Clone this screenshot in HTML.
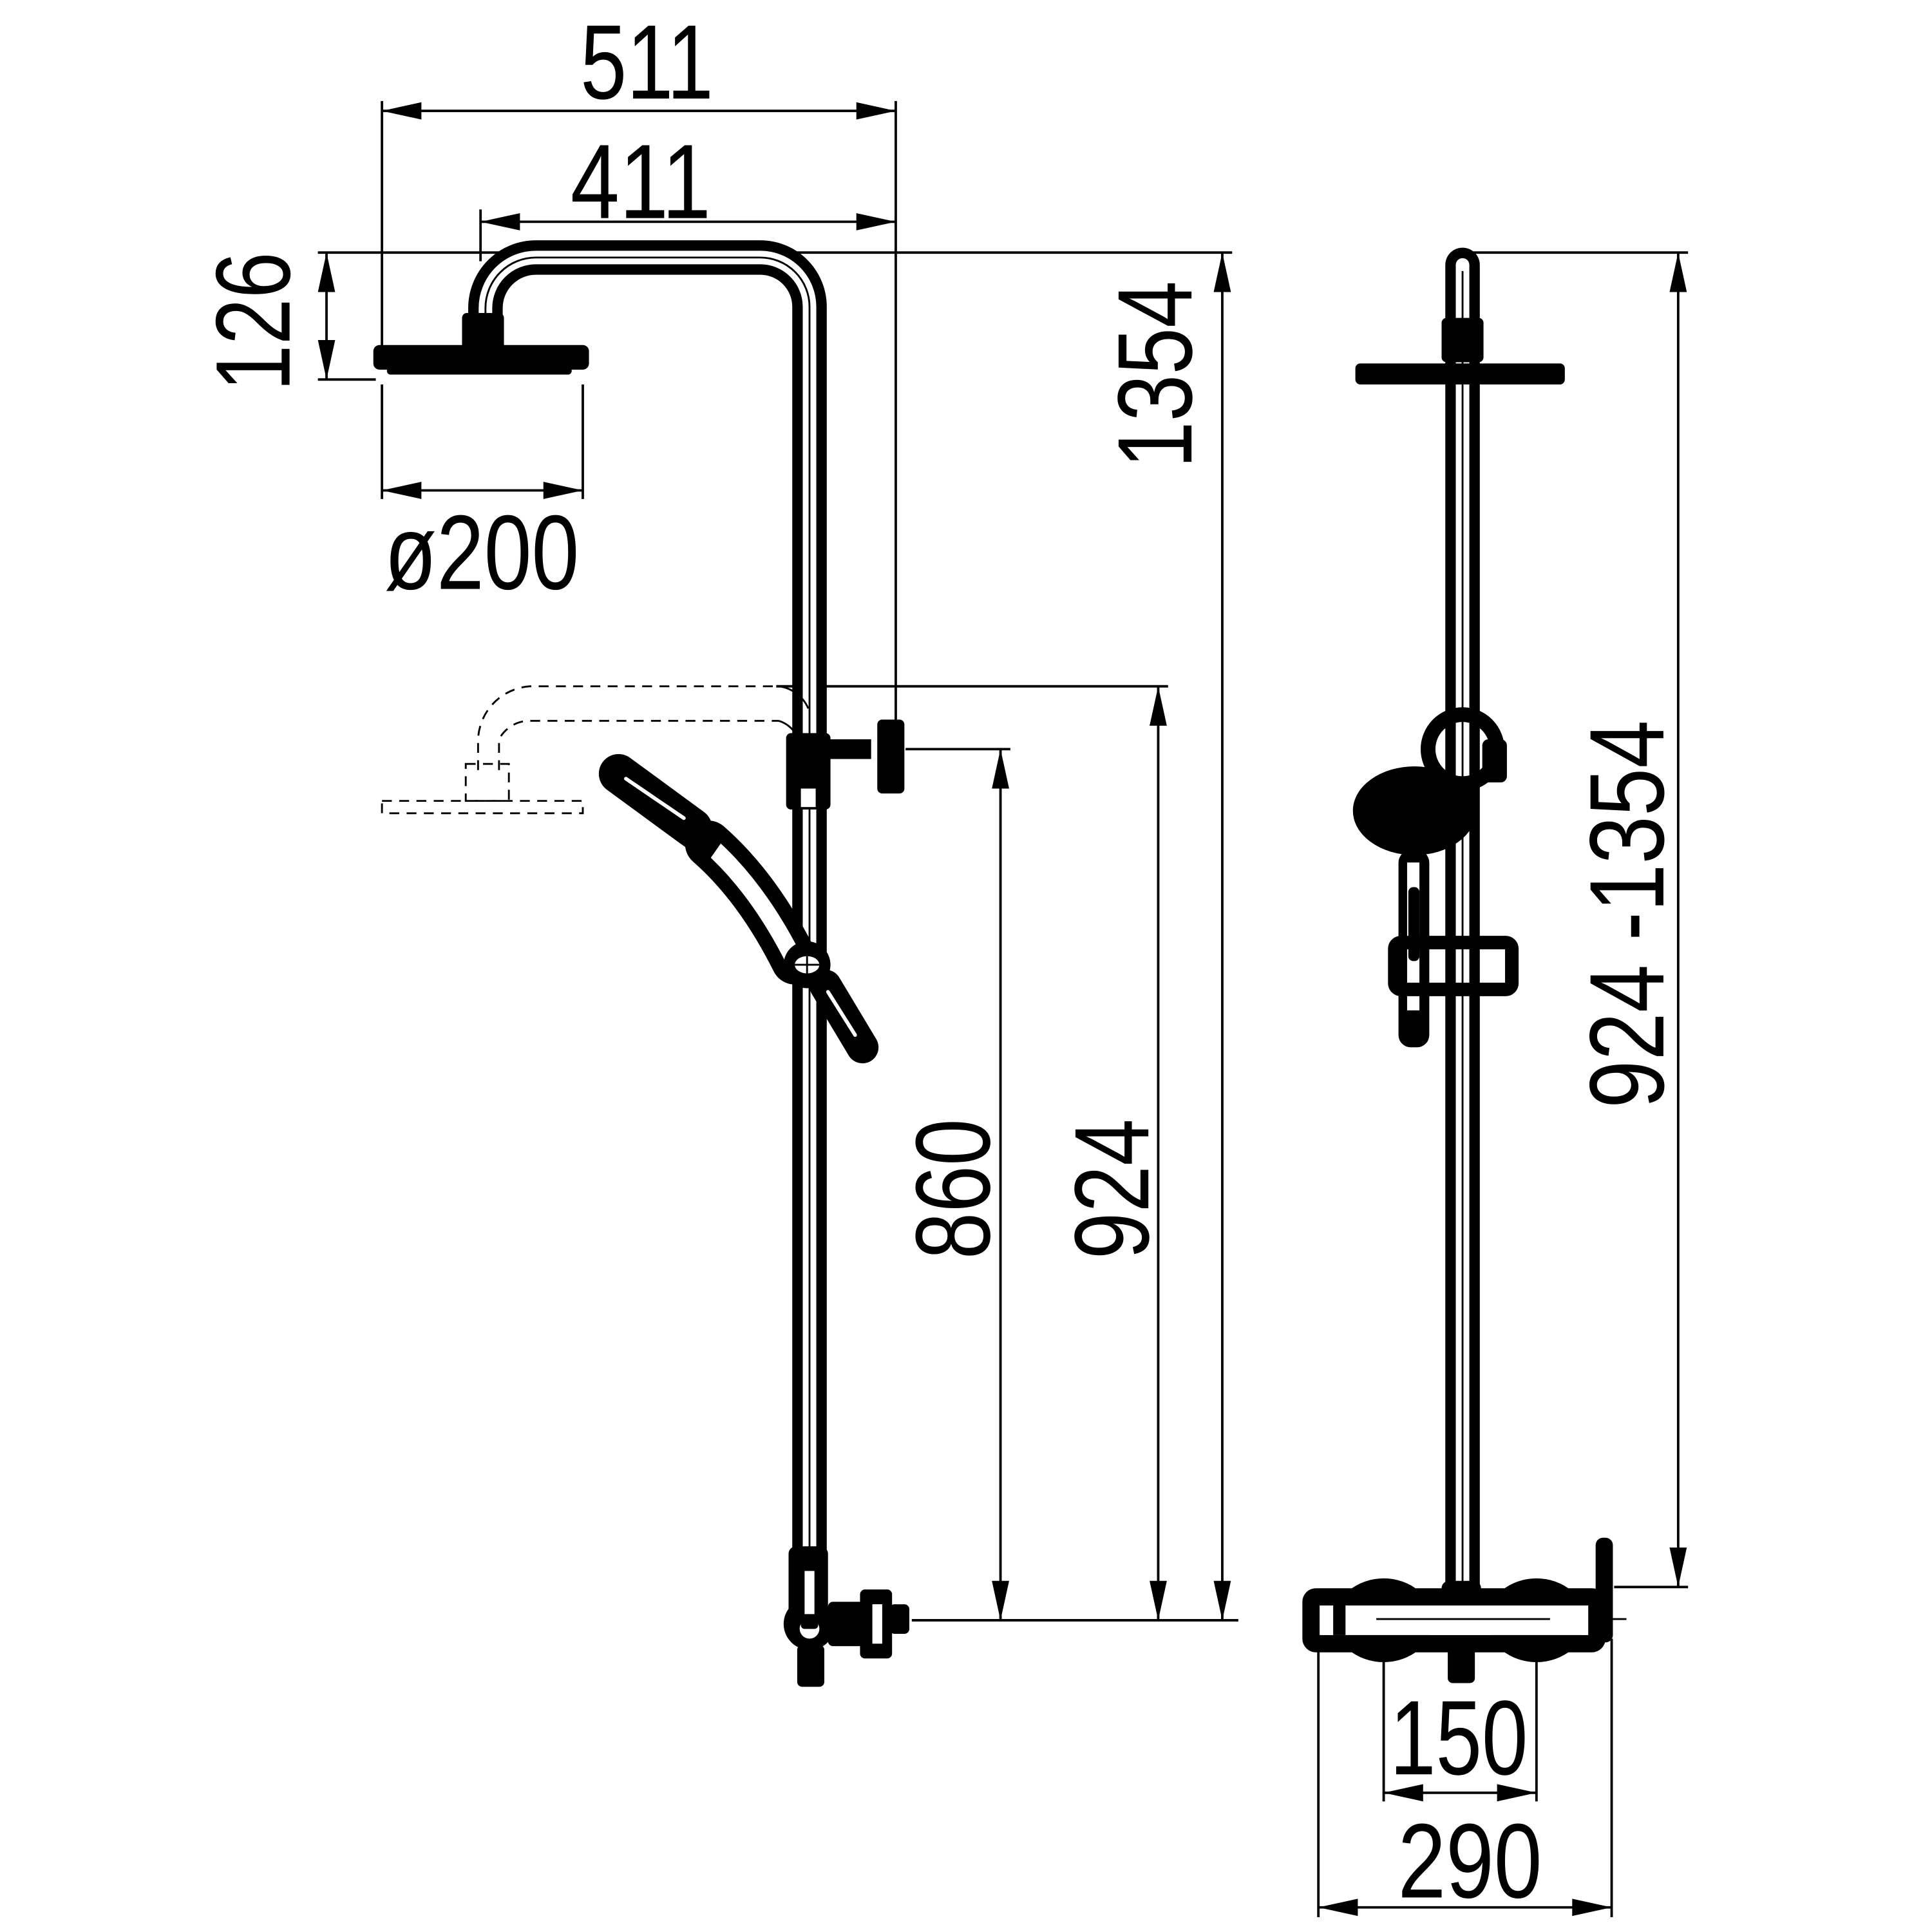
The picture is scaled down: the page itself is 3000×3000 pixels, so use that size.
<!DOCTYPE html>
<html><head><meta charset="utf-8"><style>html,body{margin:0;padding:0;background:#fff}svg{display:block}</style></head><body>
<svg width="3000" height="3000" viewBox="0 0 1568 1568" xmlns="http://www.w3.org/2000/svg">
<g fill="none" stroke="#000" stroke-width="2">
<line x1="310" y1="82" x2="310" y2="300"/><line x1="727" y1="82" x2="727" y2="585"/>
<line x1="310" y1="90" x2="727" y2="90"/>
<line x1="390" y1="170" x2="390" y2="212"/>
<line x1="390" y1="180" x2="727" y2="180"/>
<line x1="258" y1="205" x2="1000" y2="205"/><line x1="258" y1="308" x2="305" y2="308"/>
<line x1="265" y1="205" x2="265" y2="308"/>
<line x1="310" y1="312" x2="310" y2="405"/><line x1="473" y1="312" x2="473" y2="405"/>
<line x1="310" y1="398" x2="473" y2="398"/>
<line x1="992" y1="205" x2="992" y2="1315"/>
<line x1="940" y1="557" x2="940" y2="1315"/>
<line x1="630" y1="557" x2="948" y2="557"/>
<line x1="735" y1="608" x2="820" y2="608"/>
<line x1="812" y1="608" x2="812" y2="1315"/>
<line x1="740" y1="1315" x2="1005" y2="1315"/>
<line x1="1185" y1="205" x2="1370" y2="205"/><line x1="1310" y1="1288" x2="1370" y2="1288"/>
<line x1="1362" y1="205" x2="1362" y2="1288"/>
<line x1="1070" y1="1330" x2="1070" y2="1556"/><line x1="1308" y1="1330" x2="1308" y2="1556"/>
<line x1="1123" y1="1340" x2="1123" y2="1462"/><line x1="1247" y1="1340" x2="1247" y2="1462"/>
<line x1="1123" y1="1455" x2="1247" y2="1455"/>
<line x1="1070" y1="1548" x2="1308" y2="1548"/>
</g>
<g fill="#000">
<polygon points="310,90 342,83 342,97"/><polygon points="727,90 695,83 695,97"/>
<polygon points="390,180 422,173 422,187"/><polygon points="727,180 695,173 695,187"/>
<polygon points="265,205 258,237 272,237"/><polygon points="265,308 258,276 272,276"/>
<polygon points="310,398 342,391 342,405"/><polygon points="473,398 441,391 441,405"/>
<polygon points="992,205 985,237 999,237"/><polygon points="992,1315 985,1283 999,1283"/>
<polygon points="940,557 933,589 947,589"/><polygon points="940,1315 933,1283 947,1283"/>
<polygon points="812,608 805,640 819,640"/><polygon points="812,1315 805,1283 819,1283"/>
<polygon points="1362,205 1355,237 1369,237"/><polygon points="1362,1288 1355,1256 1369,1256"/>
<polygon points="1123,1455 1155,1448 1155,1462"/><polygon points="1247,1455 1215,1448 1215,1462"/>
<polygon points="1070,1548 1102,1541 1102,1555"/><polygon points="1308,1548 1276,1541 1276,1555"/>
</g>
<g font-family="'Liberation Sans', sans-serif" font-size="86" fill="#000" text-anchor="middle">
<text x="525" y="80" textLength="108" lengthAdjust="spacingAndGlyphs">511</text>
<text x="520" y="177" textLength="114" lengthAdjust="spacingAndGlyphs">411</text>
<text x="391" y="478" textLength="158" lengthAdjust="spacingAndGlyphs">ø200</text>
<text x="1184" y="1440" textLength="112" lengthAdjust="spacingAndGlyphs">150</text>
<text x="1193" y="1540" textLength="117" lengthAdjust="spacingAndGlyphs">290</text>
<text transform="translate(235,261) rotate(-90)" x="0" y="0" textLength="113" lengthAdjust="spacingAndGlyphs">126</text>
<text transform="translate(967,304) rotate(-90)" x="0" y="0" textLength="152" lengthAdjust="spacingAndGlyphs">1354</text>
<text transform="translate(803,965) rotate(-90)" x="0" y="0" textLength="114" lengthAdjust="spacingAndGlyphs">860</text>
<text transform="translate(932,965) rotate(-90)" x="0" y="0" textLength="114" lengthAdjust="spacingAndGlyphs">924</text>
<text transform="translate(1350,742) rotate(-90)" x="0" y="0" textLength="315" lengthAdjust="spacingAndGlyphs">924 -1354</text>
</g>
<path d="M394,262 V250 A41,41 0 0 1 435,209 H617 A40,40 0 0 1 657,249 V1290" fill="none" stroke="#000" stroke-width="28"/>
<path d="M394,262 V250 A41,41 0 0 1 435,209 H617 A40,40 0 0 1 657,249 V1290" fill="none" stroke="#fff" stroke-width="11"/>
<path d="M394,262 V250 A41,41 0 0 1 435,209 H617 A40,40 0 0 1 657,249 V1290" fill="none" stroke="#000" stroke-width="1.5"/>
<rect x="375" y="254" width="34" height="30" rx="4" fill="#000"/>
<rect x="303" y="280" width="175" height="20" rx="5" fill="#000"/>
<rect x="314" y="298" width="150" height="6" rx="3" fill="#000"/>
<g fill="none" stroke="#000" stroke-width="1.5" stroke-dasharray="8,6">
<path d="M388,625 V600 A45,45 0 0 1 430,557 H632"/>
<path d="M405,625 V600 A28,28 0 0 1 430,585 H632"/>
<rect x="378" y="620" width="35" height="30"/>
<rect x="310" y="650" width="163" height="10"/>
</g>
<path d="M632,557 A30,30 0 0 1 656,575 M632,585 A25,25 0 0 1 648,600" fill="none" stroke="#000" stroke-width="1.5"/>
<rect x="638" y="595" width="36" height="62" rx="4" fill="#000"/>
<rect x="650" y="640" width="12" height="15" fill="#fff"/>
<rect x="672" y="600" width="35" height="16" fill="#000"/>
<rect x="712" y="584" width="22" height="60" rx="4" fill="#000"/>
<g stroke="#000" stroke-linecap="round" fill="none">
<path d="M502,628 L562,672" stroke-width="32"/>
<path d="M508,632 L555,664" stroke="#fff" stroke-width="3"/>
<path d="M575,685 Q615,720 645,780" stroke-width="38"/>
<path d="M575,685 Q615,720 645,780" stroke="#fff" stroke-width="14"/>
<path d="M670,800 L700,850" stroke-width="26"/>
<path d="M672,805 L694,840" stroke="#fff" stroke-width="3"/>
</g>
<rect x="555" y="672" width="28" height="22" rx="4" fill="#000" transform="rotate(35 569 683)"/>
<circle cx="655" cy="783" r="19" fill="#000"/>
<ellipse cx="655" cy="783" rx="10" ry="7" fill="#fff"/>
<path d="M645,783 H665 M655,776 V790" stroke="#000" stroke-width="1.5"/>
<rect x="640" y="1255" width="32" height="70" rx="6" fill="#000"/>
<circle cx="657" cy="1318" r="21" fill="#000"/>
<path d="M653,1275 V1315 A8,8 0 1 0 661,1315 V1275 Z" fill="#fff"/>
<rect x="650" y="1310" width="14" height="12" rx="3" fill="#000"/>
<rect x="647" y="1335" width="22" height="34" rx="4" fill="#000"/>
<rect x="672" y="1300" width="30" height="36" rx="4" fill="#000"/>
<rect x="698" y="1290" width="26" height="56" rx="4" fill="#000"/>
<rect x="708" y="1302" width="8" height="32" fill="#fff"/>
<rect x="722" y="1302" width="16" height="24" rx="4" fill="#000"/>
<path d="M1187,215 V1290" stroke="#000" stroke-width="28" stroke-linecap="round"/>
<path d="M1187,215 V1290" stroke="#fff" stroke-width="11" stroke-linecap="round"/>
<path d="M1187,220 V1290" stroke="#000" stroke-width="1.5"/>
<rect x="1170" y="258" width="34" height="36" rx="4" fill="#000"/>
<rect x="1100" y="295" width="170" height="17" rx="4" fill="#000"/>
<circle cx="1187" cy="608" r="28" fill="none" stroke="#000" stroke-width="12"/>
<rect x="1203" y="600" width="20" height="35" rx="5" fill="#000"/>
<ellipse cx="1148" cy="658" rx="50" ry="36" fill="#000"/>
<rect x="1135" y="690" width="25" height="160" rx="10" fill="#000"/>
<rect x="1142" y="700" width="10" height="120" fill="#fff"/>
<rect x="1143" y="720" width="9" height="60" rx="4" fill="#000"/>
<rect x="1132" y="765" width="95" height="38" rx="5" fill="none" stroke="#000" stroke-width="11"/>
<ellipse cx="1123" cy="1315" rx="40" ry="34" fill="#000"/>
<ellipse cx="1247" cy="1315" rx="40" ry="34" fill="#000"/>
<rect x="1064" y="1296" width="232" height="38" rx="4" fill="none" stroke="#000" stroke-width="14"/>
<rect x="1072" y="1303" width="216" height="24" fill="#fff"/>
<rect x="1082" y="1303" width="10" height="24" fill="#000"/>
<path d="M1117,1314 H1258" stroke="#000" stroke-width="1.5"/>
<rect x="1170" y="1283" width="32" height="20" rx="6" fill="#000"/>
<rect x="1175" y="1330" width="22" height="36" rx="4" fill="#000"/>
<rect x="1295" y="1248" width="14" height="85" rx="6" fill="#000"/>
<path d="M1308,1314 H1320" stroke="#000" stroke-width="1.5"/>
</svg>
</body></html>
